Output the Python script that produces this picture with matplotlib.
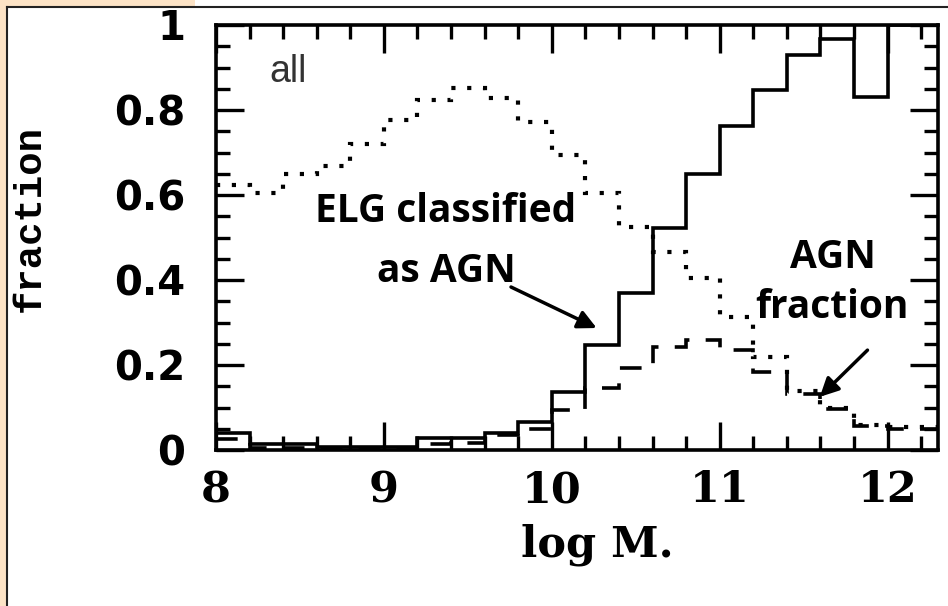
import numpy as np
import matplotlib
matplotlib.use("Agg")
import matplotlib.pyplot as plt
from matplotlib.patches import Rectangle
from matplotlib.lines import Line2D
from matplotlib.ticker import MultipleLocator, FuncFormatter

# 0.2 dex bins in log M*
edges = np.round(np.arange(8.0, 12.41, 0.2), 1)

# ELGs classified as AGN (solid)
elg_as_agn = [0.040, 0.015, 0.015, 0.007, 0.007, 0.007, 0.028, 0.028, 0.040, 0.066,
              0.137, 0.247, 0.369, 0.522, 0.650, 0.762, 0.847, 0.930, 0.967, 0.830,
              1.000, 1.000]
# AGN fraction (dashed)
agn_frac = [0.025, 0.005, 0.005, 0.005, 0.005, 0.005, 0.014, 0.016, 0.035, 0.050,
            0.094, 0.147, 0.193, 0.243, 0.259, 0.235, 0.184, 0.132, 0.097, 0.056,
            0.050, 0.050]
# dotted curve
frac_dotted = [0.624, 0.605, 0.650, 0.668, 0.720, 0.776, 0.824, 0.851, 0.828, 0.772,
               0.694, 0.605, 0.525, 0.466, 0.405, 0.314, 0.220, 0.138, 0.100, 0.060,
               0.055, 0.055]

W, H = 948, 606
fig = plt.figure(figsize=(W / 100, H / 100), dpi=100, facecolor="white")

# slide frame: peach strips + thin black border
peach = "#fce3c6"
fig.add_artist(Rectangle((0, 0), 7 / W, 1, transform=fig.transFigure,
                         facecolor=peach, edgecolor="none", zorder=-5))
fig.add_artist(Rectangle((0, 1 - 7 / H), 195 / W, 7 / H, transform=fig.transFigure,
                         facecolor=peach, edgecolor="none", zorder=-5))
fig.add_artist(Line2D([7 / W, 1], [1 - 7 / H, 1 - 7 / H], transform=fig.transFigure,
                      color="#222222", lw=1.5))
fig.add_artist(Line2D([7 / W, 7 / W], [0, 1 - 7 / H], transform=fig.transFigure,
                      color="#222222", lw=1.5))

ax = fig.add_axes([216 / W, 1 - 450 / H, (938 - 216) / W, (450 - 25) / H])

ax.stairs(elg_as_agn, edges, baseline=None, color="black", lw=2.6,
          joinstyle="miter")
ax.stairs(agn_frac, edges, baseline=None, color="black", lw=2.6,
          linestyle=(0, (6, 4.5)), joinstyle="miter")
ax.stairs(frac_dotted, edges, baseline=None, color="black", lw=3.0,
          linestyle=(0, (1, 2.8)), capstyle="butt", joinstyle="miter")

ax.set_xlim(8, 12.3)
ax.set_ylim(0, 1)

ax.xaxis.set_major_locator(MultipleLocator(1))
ax.xaxis.set_minor_locator(MultipleLocator(0.2))
ax.yaxis.set_major_locator(MultipleLocator(0.2))
ax.yaxis.set_minor_locator(MultipleLocator(0.05))
ax.yaxis.set_major_formatter(FuncFormatter(
    lambda v, p: "0" if abs(v) < 1e-9 else ("1" if abs(v - 1) < 1e-9 else f"{v:.1f}")))
ax.xaxis.set_major_formatter(FuncFormatter(lambda v, p: f"{v:.0f}"))

ax.tick_params(which="both", direction="in", top=True, right=True, width=2.4,
               color="black")
ax.tick_params(which="major", length=20)
ax.tick_params(which="minor", length=10)
ax.tick_params(axis="y", which="major", pad=22)
ax.tick_params(axis="x", which="major", pad=14)
for lab in ax.get_yticklabels():
    lab.set_fontfamily("DejaVu Sans")
    lab.set_fontweight("bold")
    lab.set_fontsize(29)
for lab in ax.get_xticklabels():
    lab.set_fontfamily("DejaVu Serif")
    lab.set_fontweight("bold")
    lab.set_fontsize(31)
for sp in ax.spines.values():
    sp.set_linewidth(2.6)

fig.text(30 / W, 1 - 218 / H, "fraction", rotation=90, ha="center", va="center",
         fontsize=28, family="Liberation Mono", fontweight="bold")
fig.text(597 / W, 1 - 545 / H, "log M.", ha="center", va="center",
         fontsize=31, family="DejaVu Serif", fontweight="bold")

ax.text(8.32, 0.866, "all", fontsize=27, family="Liberation Sans", color="#333333",
        ha="left", va="baseline")

ann = dict(fontsize=28, family="Open Sans", fontweight="bold", ha="center",
           va="baseline", color="black")
ax.text(9.365, 0.536, "ELG classified", **ann)
ax.text(9.37, 0.395, "as AGN", **ann)
ax.text(11.674, 0.428, "AGN", **ann)
ax.text(11.668, 0.311, "fraction", **ann)

arrow = dict(arrowstyle="-|>", lw=2.5, color="black", mutation_scale=28,
             shrinkA=0, shrinkB=0)
ax.annotate("", xy=(10.267, 0.287), xytext=(9.757, 0.3835), arrowprops=arrow)
ax.annotate("", xy=(11.596, 0.125), xytext=(11.88, 0.235), arrowprops=arrow)

fig.savefig("out.png", dpi=100, facecolor=fig.get_facecolor())
